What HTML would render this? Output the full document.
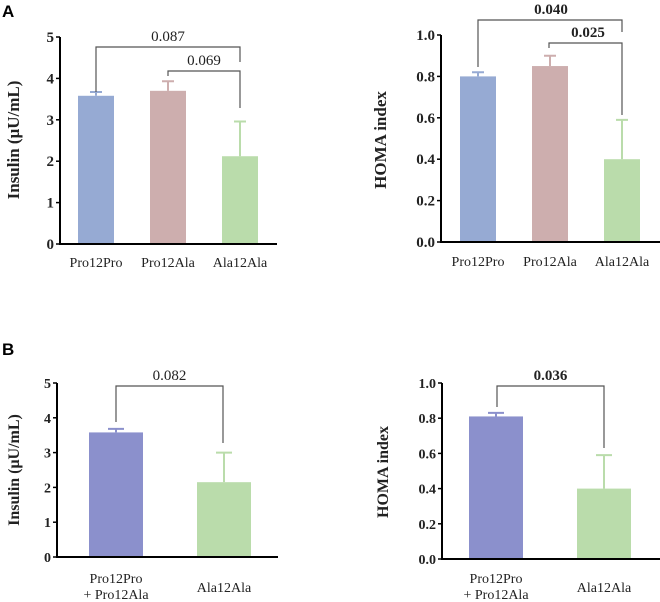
<!DOCTYPE html>
<html><head><meta charset="utf-8"><style>
body{margin:0;background:#fff}
svg{display:block}
svg text{font-family:"Liberation Serif","DejaVu Serif",serif;fill:#222}
svg text.lab{font-family:"Liberation Sans",sans-serif;font-weight:bold;font-size:17px;fill:#000}
</style></head><body>
<svg id="fig" width="660" height="602" viewBox="0 0 660 602">
<text class="lab" x="2" y="17" font-family="Liberation Sans, sans-serif">A</text>
<text class="lab" x="2" y="355" font-family="Liberation Sans, sans-serif">B</text>
</svg>
<script>
// Panel A insulin
const aInsCats=["Pro12Pro","Pro12Ala","Ala12Ala"];
const aInsVals=[3.58,3.70,2.12];
const aInsErr=[3.67,3.93,2.96];
const aInsTicks=["0","1","2","3","4","5"];
// Panel A HOMA
const aHomaCats=["Pro12Pro","Pro12Ala","Ala12Ala"];
const aHomaVals=[0.80,0.85,0.40];
const aHomaErr=[0.82,0.90,0.59];
const aHomaTicks=["0.0","0.2","0.4","0.6","0.8","1.0"];
// Panel B insulin
const bInsCats=[["Pro12Pro","+ Pro12Ala"],["Ala12Ala"]];
const bInsVals=[3.58,2.15];
const bInsErr=[3.68,3.00];
const bInsTicks=["0","1","2","3","4","5"];
// Panel B HOMA
const bHomaCats=[["Pro12Pro","+ Pro12Ala"],["Ala12Ala"]];
const bHomaVals=[0.81,0.40];
const bHomaErr=[0.83,0.59];
const bHomaTicks=["0.0","0.2","0.4","0.6","0.8","1.0"];
const pA=["0.087","0.069"],pAH=["0.040","0.025"],pB=["0.082"],pBH=["0.036"];

const NS="http://www.w3.org/2000/svg";
const svg=document.getElementById('fig');
function mk(t,a,parent){const e=document.createElementNS(NS,t);for(const k in a)e.setAttribute(k,a[k]);if(t==='text')e.setAttribute('font-family','Liberation Serif, serif');(parent||svg).appendChild(e);return e;}

function panel(o){
  const g=mk('g',{});
  
  
  const max=o.max;
  const y=v=>o.y0-(v/max)*(o.y0-o.yTop);
  o.vals.forEach((v,i)=>{
    const bx=o.bx[i],cx=bx+o.bw/2;
    const r=mk('rect',{x:bx,y:y(v),width:o.bw,height:o.y0-y(v),fill:o.colors[i]},g);
    
    
    const el=mk('path',{d:`M${cx},${y(v)}V${y(o.err[i])}M${cx-o.cap},${y(o.err[i])}H${cx+o.cap}`,stroke:o.colors[i],'stroke-width':2,fill:'none'},g);
    
    
    const lines=Array.isArray(o.cats[i])?o.cats[i]:[o.cats[i]];
    lines.forEach((s,j)=>{
      const t=mk('text',{x:cx,y:(lines.length>1?o.labY2[j]:o.labY1),'text-anchor':'middle','font-size':o.lfs},g);
      t.textContent=s;
      
      
    });
  });
  const ax=mk('path',{d:`M${o.x0},${o.yTop}V${o.y0}H${o.xEnd}`,stroke:'#000','stroke-width':2,fill:'none'},g);
  
  
  o.ticks.forEach((s,i)=>{
    const v=i*max/(o.ticks.length-1),ty=y(v);
    mk('line',{x1:o.x0-4,x2:o.x0,y1:ty,y2:ty,stroke:'#000','stroke-width':1.5},g);
    const t=mk('text',{x:o.x0-6,y:ty+5,'text-anchor':'end','font-size':o.tfs,'font-weight':'bold'},g);
    t.textContent=s;
    
    
  });
  const tt=mk('text',{x:0,y:0,transform:`translate(${o.titleX},${o.titleY}) rotate(-90)`,'text-anchor':'middle','font-size':o.titleFs,'font-weight':'bold'},g);
  tt.textContent=o.title;
  
  
  o.br.forEach((b,k)=>{
    const p=mk('path',{d:`M${b.x1},${b.l1}V${b.y}H${b.x2}V${b.l2}`,stroke:'#555','stroke-width':1.2,fill:'none'},g);
    
    
    const t=mk('text',{x:(b.tx||(b.x1+b.x2)/2),y:b.y-6,'text-anchor':'middle','font-size':15,'font-weight':o.boldP?'bold':'normal'},g);
    t.textContent=o.p[k];
    
    
  });
}
panel({name:'insulin-chart-a',x0:60,y0:244,yTop:37,xEnd:277,max:5,bx:[78,150,222],bw:36,cap:6,
 vals:aInsVals,err:aInsErr,cats:aInsCats,ticks:aInsTicks,colors:['#96aad3','#cdaeae','#badcab'],
 labY1:267,lfs:14,tfs:15,title:'Insulin (μU/mL)',titleX:19,titleY:140,titleFs:17,p:pA,boldP:false,
 br:[{x1:96,x2:240,y:47,l1:92,l2:62},{x1:168,x2:240,y:71,l1:76,l2:108,tx:204}]});
panel({name:'homa-chart-a',x0:441,y0:242,yTop:35,xEnd:660,max:1,bx:[460,532,604],bw:36,cap:6,
 vals:aHomaVals,err:aHomaErr,cats:aHomaCats,ticks:aHomaTicks,colors:['#96aad3','#cdaeae','#badcab'],
 labY1:266,lfs:14,tfs:15,title:'HOMA index',titleX:386,titleY:140,titleFs:17,p:pAH,boldP:true,
 br:[{x1:478,x2:622,y:20,l1:67,l2:32,tx:551},{x1:549,x2:622,y:43,l1:48,l2:115,tx:588}]});
panel({name:'insulin-chart-b',x0:57,y0:557,yTop:383,xEnd:278,max:5,bx:[89,197],bw:54,cap:8,
 vals:bInsVals,err:bInsErr,cats:bInsCats,ticks:bInsTicks,colors:['#8b90cc','#badcab'],
 labY1:592,labY2:[583,599],lfs:14,tfs:14,title:'Insulin (μU/mL)',titleX:19,titleY:470,titleFs:16,p:pB,boldP:false,
 br:[{x1:116,x2:223,y:386,l1:422,l2:443}]});
panel({name:'homa-chart-b',x0:442,y0:559,yTop:383,xEnd:660,max:1,bx:[469,577],bw:54,cap:8,
 vals:bHomaVals,err:bHomaErr,cats:bHomaCats,ticks:bHomaTicks,colors:['#8b90cc','#badcab'],
 labY1:592,labY2:[583,599],lfs:14,tfs:14,title:'HOMA index',titleX:388,titleY:472,titleFs:16,p:pBH,boldP:true,
 br:[{x1:497,x2:604,y:386,l1:407,l2:448}]});
</script>
</body></html>
